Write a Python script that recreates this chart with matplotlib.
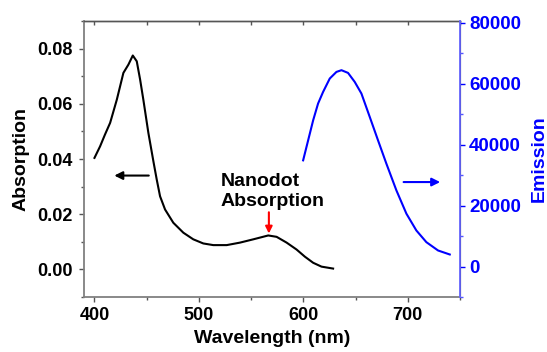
import matplotlib
matplotlib.use("Agg")
import matplotlib.pyplot as plt
from matplotlib.ticker import MultipleLocator

plt.rcParams['font.family'] = ['Liberation Sans', 'DejaVu Sans']
plt.rcParams['font.weight'] = 'bold'

# Absorption spectrum (left axis)
abs_wl = [400, 405.4, 410, 415, 421.4, 427.7, 432.5, 436.7, 440.5, 443.7, 446.8,
          451.6, 456.5, 459.6, 462.8, 467.6, 475.5, 485.1, 494.6, 504.2, 513.8,
          526.6, 539.3, 552.1, 566.4, 574.4, 584, 593.5, 601.5, 609.4, 617.4, 628.5]
abs_val = [0.0404, 0.0446, 0.0488, 0.0531, 0.0615, 0.0712, 0.0742, 0.0775, 0.0754,
           0.0688, 0.0615, 0.0495, 0.0390, 0.0326, 0.0265, 0.0217, 0.0169, 0.0133,
           0.0109, 0.0094, 0.0088, 0.0088, 0.0097, 0.0109, 0.0123, 0.0118, 0.0097,
           0.0072, 0.0046, 0.0024, 0.0010, 0.0003]

# Emission spectrum (right axis)
em_wl = [599.8, 604.6, 609.4, 614.1, 618.9, 625.3, 631.7, 636.5, 642.8, 649.2,
         655.6, 663.6, 671.5, 679.5, 689.1, 698.7, 708.2, 717.8, 729, 740.2]
em_val = [34810, 41380, 47950, 53430, 57240, 61640, 63810, 64370, 63480, 60530,
          56720, 49030, 41380, 33730, 24960, 17310, 11820, 7980, 5250, 3940]

x_ticks = [400, 500, 600, 700]
abs_ticks = [0.00, 0.02, 0.04, 0.06, 0.08]
em_ticks = [0, 20000, 40000, 60000, 80000]

W, H = 547, 352
fig = plt.figure(figsize=(W / 100, H / 100), dpi=100)
L, R, T, B = 83.5, 460, 21, 297
ax = fig.add_axes([L / W, 1 - B / H, (R - L) / W, (B - T) / H])
ax2 = ax.twinx()

ax.plot(abs_wl, abs_val, color='black', lw=1.5)
ax2.plot(em_wl, em_val, color='#0000ff', lw=1.5)

ax.set_xlim(389.5, 750)
ax.set_ylim(-0.01, 0.09)
ax2.set_ylim(-10000, 80500)

ax.set_xticks(x_ticks)
ax.set_xticklabels([str(t) for t in x_ticks])
ax.xaxis.set_minor_locator(MultipleLocator(50))
ax.set_yticks(abs_ticks)
ax.set_yticklabels([f"{t:.2f}" for t in abs_ticks])
ax.yaxis.set_minor_locator(MultipleLocator(0.01))
ax2.set_yticks(em_ticks)
ax2.set_yticklabels([str(t) for t in em_ticks])
ax2.yaxis.set_minor_locator(MultipleLocator(10000))

ax.tick_params(axis='both', which='major', direction='out', length=3.5, width=1.0,
               labelsize=13, color='#555555', pad=4)
ax.tick_params(axis='both', which='minor', direction='out', length=2.0, width=1.0,
               color='#555555')
ax.tick_params(axis='x', which='both', top=False)
ax2.tick_params(axis='y', which='major', direction='out', length=3.5, width=1.0,
                labelsize=13.5, colors='#0000ff', pad=3)
ax2.tick_params(axis='y', which='minor', direction='out', length=2.0, width=1.0,
                color='#5555ff')
for lab in ax2.get_yticklabels():
    lab.set_color('#0000ff')

# top ticks pointing inward
secx = ax.secondary_xaxis('top')
secx.set_xticks(x_ticks)
secx.xaxis.set_minor_locator(MultipleLocator(50))
secx.tick_params(axis='x', which='both', direction='in', length=3.0, width=1.0,
                 labeltop=False, color='#555555')

for s in ['left', 'bottom']:
    ax.spines[s].set_color('#808080')
    ax.spines[s].set_linewidth(1.3)
ax.spines['top'].set_color('#555555')
ax.spines['top'].set_linewidth(1.0)
secx.spines['top'].set_color('#555555')
secx.spines['top'].set_linewidth(1.0)
ax2.spines['right'].set_color('#6666ff')
ax2.spines['right'].set_linewidth(1.3)
for s in ['left', 'bottom', 'top']:
    ax2.spines[s].set_visible(False)

ax.set_xlabel('Wavelength (nm)', fontsize=14, fontweight='bold', labelpad=4)
ax.set_ylabel('Absorption', fontsize=14, fontweight='bold', labelpad=6)
ax2.set_ylabel('Emission', fontsize=14, fontweight='bold', color='#0000ff', labelpad=7)

# annotations
ax.annotate('', xy=(419, 0.034), xytext=(452, 0.034),
            arrowprops=dict(arrowstyle='-|>', color='black', lw=1.5,
                            mutation_scale=12, shrinkA=0, shrinkB=0))
ax2.annotate('', xy=(731, 27690), xytext=(696, 27690),
             arrowprops=dict(arrowstyle='-|>', color='#0000ff', lw=1.5,
                             mutation_scale=12, shrinkA=0, shrinkB=0))
ax.annotate('', xy=(567, 0.0130), xytext=(567, 0.0207),
            arrowprops=dict(arrowstyle='-|>', color='red', lw=1.5,
                            mutation_scale=10, shrinkA=0, shrinkB=0))
ax.text(521, 0.0216, 'Nanodot\nAbsorption', fontsize=14, fontweight='bold',
        ha='left', va='bottom', linespacing=1.2)

fig.savefig('out.png', dpi=100)
